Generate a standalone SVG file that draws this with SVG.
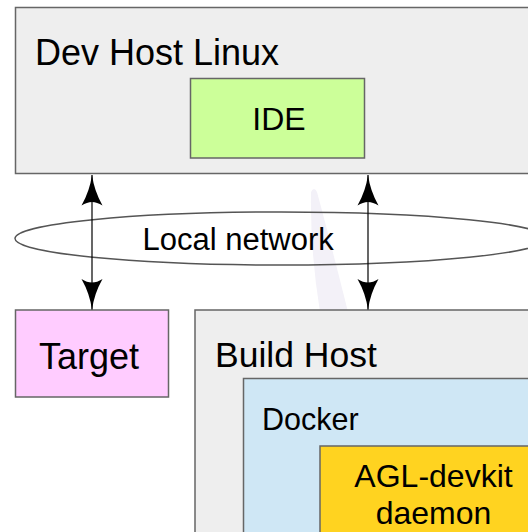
<svg xmlns="http://www.w3.org/2000/svg" width="528" height="532" viewBox="0 0 528 532">
<defs>
<style>
.box{stroke:#666;stroke-width:1.5}
.t{font-family:"Liberation Sans",Arial,sans-serif;fill:#000}
.conn{stroke:#000;stroke-width:1.2;fill:none}
</style>
<marker id="ah" viewBox="0 0 32 22" refX="31.5" refY="11" markerWidth="32" markerHeight="22" markerUnits="userSpaceOnUse" orient="auto-start-reverse">
<path d="M32 11 Q16 13 1 21.5 Q4.5 16 4.5 11 Q4.5 6 1 0.5 Q16 9 32 11 Z" fill="#000"/>
</marker>
</defs>
<rect width="528" height="532" fill="#fff"/>
<path d="M311 192 Q314 186 317 192 Q330 240 348 312 L320 312 Q310 250 311 192 Z" fill="#f3f1f8"/>
<g id="devhost">
<rect class="box" x="15.5" y="7.5" width="530" height="166" fill="#eeeeee"/>
<text class="t" x="35" y="65" font-size="36">Dev Host Linux</text>
</g>
<g id="ide">
<rect class="box" x="190.5" y="78.5" width="174" height="79.5" fill="#ccff99"/>
<text class="t" x="279" y="130" font-size="32" text-anchor="middle">IDE</text>
</g>
<g id="network">
<ellipse cx="281" cy="238.5" rx="266" ry="26.5" fill="none" stroke="#555" stroke-width="1.5"/>
<text class="t" x="142.5" y="250" font-size="31">Local network</text>
</g>
<g id="target">
<rect class="box" x="15.5" y="310" width="153" height="87" fill="#ffccff"/>
<text class="t" x="39" y="369" font-size="36">Target</text>
</g>
<g id="buildhost">
<rect class="box" x="195" y="310" width="350" height="240" fill="#eeeeee"/>
<text class="t" x="215" y="366.5" font-size="35.5">Build Host</text>
</g>
<g id="docker">
<rect class="box" x="243.5" y="378.5" width="300" height="170" fill="#cfe7f5"/>
<text class="t" x="262" y="430" font-size="30.5">Docker</text>
</g>
<g id="agl">
<rect class="box" x="320" y="446" width="220" height="100" fill="#ffd320"/>
<text class="t" font-size="32" text-anchor="middle"><tspan x="433.5" y="486.5">AGL-devkit</tspan><tspan x="433.5" y="523.5">daemon</tspan></text>
</g>
<g id="connectors">
<line class="conn" x1="92" y1="175" x2="92" y2="309.5" marker-start="url(#ah)" marker-end="url(#ah)"/>
<line class="conn" x1="368" y1="175" x2="368" y2="309.5" marker-start="url(#ah)" marker-end="url(#ah)"/>
</g>
</svg>
